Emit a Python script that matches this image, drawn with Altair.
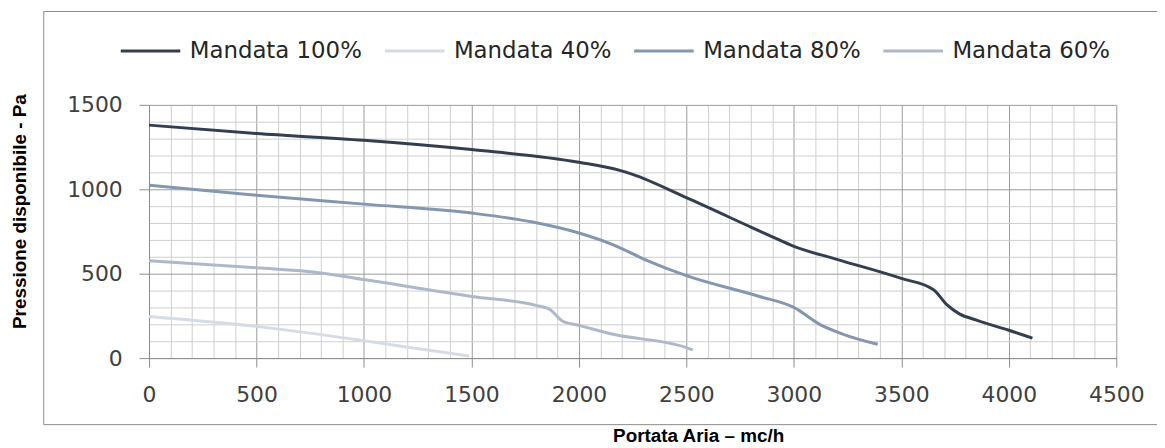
import altair as alt
import pandas as pd

series_order = ["Mandata 100%", "Mandata 40%", "Mandata 80%", "Mandata 60%"]
series_colors = ["#333f50", "#d6dce5", "#8497b0", "#adb9ca"]

x100 = [0, 500, 1000, 1500, 2000, 2190, 2250, 2500, 2800, 2900, 3000, 3200, 3500, 3650, 3710, 3770, 3850, 3930, 4000, 4110]
y100 = [1380, 1330, 1290, 1235, 1160, 1112, 1088, 950, 776, 718, 662, 585, 472, 405, 318, 262, 225, 192, 165, 118]

x80 = [0, 500, 1000, 1500, 1785, 2000, 2160, 2310, 2500, 2840, 3000, 3120, 3230, 3390]
y80 = [1024, 965, 912, 859, 806, 741, 671, 582, 488, 365, 300, 200, 141, 82]

x60 = [0, 500, 790, 1000, 1500, 1800, 1865, 1925, 2000, 2160, 2500, 2530]
y60 = [576, 535, 506, 465, 365, 312, 288, 218, 194, 141, 62, 48]

x40 = [0, 500, 1000, 1165, 1490]
y40 = [247, 188, 103, 72, 12]

x_ticks = list(range(0, 4501, 100))
y_ticks = list(range(0, 1501, 100))

rows = []
for name, xs, ys in [("Mandata 100%", x100, y100), ("Mandata 40%", x40, y40),
                     ("Mandata 80%", x80, y80), ("Mandata 60%", x60, y60)]:
    for a, b in zip(xs, ys):
        rows.append({"serie": name, "portata": a, "pressione": b})
df = pd.DataFrame(rows)

major_x = "datum.value % 500 === 0"

lines = alt.Chart(df).mark_line(strokeWidth=3, interpolate="monotone").encode(
    x=alt.X("portata:Q",
            scale=alt.Scale(domain=[0, 4500], nice=False, zero=False),
            axis=alt.Axis(
                values=x_ticks, format="d",
                labelExpr="datum.value % 500 === 0 ? datum.label : ''",
                labelOverlap=False, labelFlush=False,
                labelFont="DejaVu Sans", labelFontSize=22, labelColor="#404040",
                labelPadding=18,
                tickSize=9,
                tickColor={"condition": {"test": major_x, "value": "#8c8c8c"}, "value": "transparent"},
                grid=True,
                gridColor={"condition": {"test": major_x, "value": "#9a9a9a"}, "value": "#cfcfcf"},
                gridWidth=1,
                domainColor="#8c8c8c",
                title="Portata Aria – mc/h",
                titleFont="Liberation Sans", titleFontWeight="bold", titleFontSize=19,
                titleColor="#000000",
                titleX=553, titleY=78, titleAlign="center", titleBaseline="middle",
            )),
    y=alt.Y("pressione:Q",
            scale=alt.Scale(domain=[0, 1500], nice=False),
            axis=alt.Axis(
                values=y_ticks, format="d",
                labelExpr="datum.value % 500 === 0 ? datum.label : ''",
                labelOverlap=False, labelFlush=False,
                labelFont="DejaVu Sans", labelFontSize=22, labelColor="#404040",
                labelPadding=17,
                tickSize=10,
                tickColor={"condition": {"test": major_x, "value": "#8c8c8c"}, "value": "transparent"},
                grid=True,
                gridColor={"condition": {"test": major_x, "value": "#9a9a9a"}, "value": "#cfcfcf"},
                gridWidth=1,
                domainColor="#8c8c8c",
                title="Pressione disponibile - Pa",
                titleFont="Liberation Sans", titleFontWeight="bold", titleFontSize=19,
                titleColor="#000000",
                titleAngle=270, titleX=-130, titleY=107,
                titleAlign="center", titleBaseline="middle",
            )),
    color=alt.Color("serie:N",
                    scale=alt.Scale(domain=series_order, range=series_colors),
                    sort=series_order,
                    legend=alt.Legend(
                        title=None, orient="none", direction="horizontal", columns=4,
                        legendX=-30, legendY=-86,
                        symbolType="stroke", symbolSize=3600, symbolStrokeWidth=3,
                        labelFont="DejaVu Sans", labelFontSize=23, labelColor="#262626",
                        labelOffset=8, columnPadding=16, labelLimit=0,
                    )),
    detail="serie:N",
)

border = alt.Chart(pd.DataFrame({"a": [0]})).mark_rect(
    fillOpacity=0, stroke="#8c8c8c", strokeWidth=1
).encode(
    x=alt.value(-106), x2=alt.value(1030),
    y=alt.value(-94), y2=alt.value(322),
)

chart = alt.layer(border, lines).properties(
    width=974, height=255,
    autosize=alt.AutoSizeParams(type="none"),
    padding={"left": 142, "top": 96, "right": 41, "bottom": 89},
).configure_view(strokeWidth=0)

chart.save("out.html", embed_options={"renderer": "svg", "actions": False})
